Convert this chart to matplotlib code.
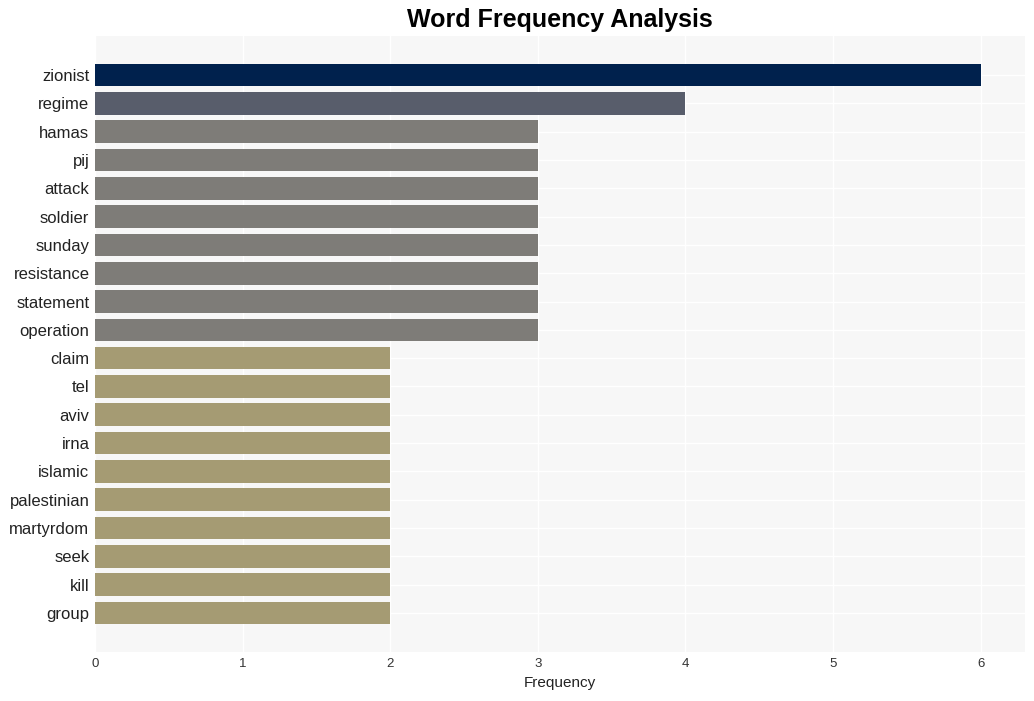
import matplotlib
matplotlib.use("Agg")
import matplotlib.pyplot as plt

words = ["zionist", "regime", "hamas", "pij", "attack", "soldier", "sunday",
         "resistance", "statement", "operation", "claim", "tel", "aviv", "irna",
         "islamic", "palestinian", "martyrdom", "seek", "kill", "group"]
freqs = [6, 4, 3, 3, 3, 3, 3, 3, 3, 3, 2, 2, 2, 2, 2, 2, 2, 2, 2, 2]
colors = ["#00214d", "#585d6b"] + ["#7e7c78"] * 8 + ["#a59b73"] * 10

plt.rcParams['font.family'] = ['Liberation Sans', 'DejaVu Sans']
fig = plt.figure(figsize=(10.34, 7.01), dpi=100)
ax = fig.add_axes([95/1034, 1 - 652/701, (1025-95)/1034, (652-36)/701])
ax.set_facecolor("#f7f7f7")
ypos = list(range(len(words)))
ax.barh(ypos, freqs, color=colors, height=0.8, zorder=2)
ax.set_yticks(ypos)
ax.set_yticklabels(words, fontsize=12, color="#222222")
ax.set_ylim(len(words) - 1 + 1.38, -1.38)
ax.set_xlim(0, 6.3)
ax.set_xticks(range(7))
ax.tick_params(axis='x', labelsize=9.5, colors="#333333", length=0, pad=4)
ax.tick_params(axis='y', length=0, pad=4)
ax.grid(True, color="white", linewidth=1, zorder=0)
for s in ax.spines.values():
    s.set_visible(False)
ax.set_xlabel("Frequency", fontsize=11, color="#222222", labelpad=5)
fig.text(560/1034, 1 - 20/701, "Word Frequency Analysis", ha="center", va="center",
         fontsize=18, fontweight="bold")
fig.savefig("out.png", dpi=100, facecolor="white")
